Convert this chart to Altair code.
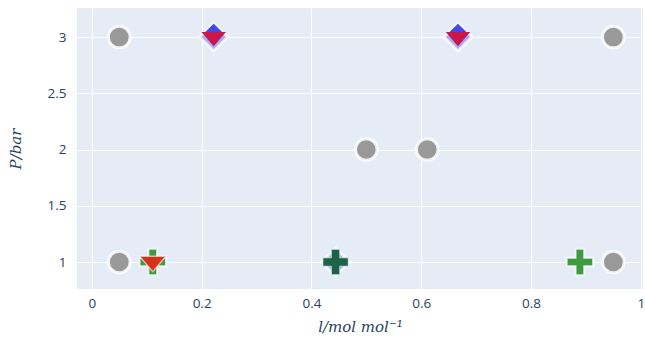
import altair as alt
import pandas as pd

# data
grey_x = [0.05, 0.95, 0.5, 0.611, 0.05, 0.95]
grey_y = [3, 3, 2, 2, 1, 1]
diam_x = [0.222, 0.667, 0.444]
diam_y = [3, 3, 1]
tip_x = [0.222, 0.667]
tip_y = [3, 3]
crim_x = [0.222, 0.667]
crim_y = [3, 3]
green_x = [0.111, 0.889]
green_y = [1, 1]
dgreen_x = [0.444]
dgreen_y = [1]
red_x = [0.111]
red_y = [1]

x_ticks = [0, 0.2, 0.4, 0.6, 0.8, 1]
y_ticks = [1, 1.5, 2, 2.5, 3]

FONT = "Open Sans"
TXT = "#2a3f5f"

CROSS = ("M-1,-0.33L-0.33,-0.33L-0.33,-1L0.33,-1L0.33,-0.33L1,-0.33L1,0.33L0.33,0.33"
         "L0.33,1L-0.33,1L-0.33,0.33L-1,0.33Z")
TRI_DOWN = "M-1,-0.58L1,-0.58L0,0.58Z"
DIAMOND = "M0,-1L1,0L0,1L-1,0Z"
TIP = "M0,-0.95L0.6,-0.35L-0.6,-0.35Z"

xs = alt.Scale(domain=[-0.027, 1.004], nice=False, zero=False)
ys = alt.Scale(domain=[0.76, 3.258], nice=False, zero=False)

xaxis = alt.Axis(values=x_ticks, format="~g", title="l/mol mol⁻¹", grid=True, gridColor="white",
                 gridWidth=1, domain=False, ticks=False, labelFont=FONT, labelFontSize=13.5,
                 labelColor=TXT, labelPadding=7, titleFont="DejaVu Serif", titleFontStyle="italic",
                 titleFontWeight="normal", titleFontSize=15, titleColor=TXT, titlePadding=10)
yaxis = alt.Axis(values=y_ticks, format="~g", title="P/bar", grid=True, gridColor="white",
                 gridWidth=1, domain=False, ticks=False, labelFont=FONT, labelFontSize=13.5,
                 labelColor=TXT, labelPadding=11, titleFont="DejaVu Serif", titleFontStyle="italic",
                 titleFontWeight="normal", titleFontSize=15, titleColor=TXT, titlePadding=24)


def layer(xv, yv, **mk):
    df = pd.DataFrame({"x": xv, "y": yv})
    return alt.Chart(df).mark_point(filled=True, **mk).encode(
        x=alt.X("x:Q", scale=xs, axis=xaxis),
        y=alt.Y("y:Q", scale=ys, axis=yaxis),
    )


grey = layer(grey_x, grey_y, shape="circle", size=470, color="#999999", opacity=1,
             stroke="white", strokeWidth=3, strokeOpacity=0.85)
diam = layer(diam_x, diam_y, shape=DIAMOND, size=784, color="#a8acf6", opacity=1,
             stroke="white", strokeWidth=3, strokeOpacity=0.75)
tip = layer(tip_x, tip_y, shape=TIP, size=784, color="#4646ee", opacity=1, strokeWidth=0)
crim = layer(crim_x, crim_y, shape=TRI_DOWN, size=600, color="#c8174a", opacity=1,
             strokeWidth=0, yOffset=2)
green = layer(green_x, green_y, shape=CROSS, size=700, color="#3f9b3f", opacity=1,
              stroke="white", strokeWidth=2, strokeOpacity=0.8)
dgreen = layer(dgreen_x, dgreen_y, shape=CROSS, size=640, color="#1b6447", opacity=1,
               stroke="white", strokeWidth=1, strokeOpacity=0.6)
red = layer(red_x, red_y, shape=TRI_DOWN, size=700, color="#d9301c", opacity=1,
            stroke="white", strokeWidth=1.5, strokeOpacity=0.6, yOffset=2)

chart = alt.layer(grey, diam, tip, crim, green, dgreen, red).properties(
    width=566, height=281,
    autosize=alt.AutoSizeParams(type="none"),
    padding={"left": 77, "top": 8, "right": 2, "bottom": 56},
    background="white",
).configure_view(fill="#E5ECF6", stroke=None)

chart.save("out.html", embed_options={"renderer": "svg", "actions": False})
